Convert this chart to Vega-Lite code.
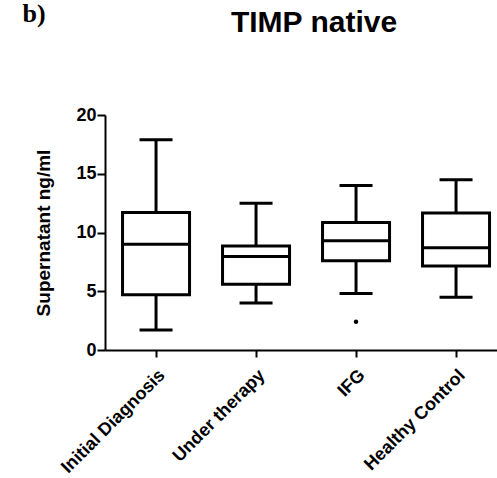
{
  "$schema": "https://vega.github.io/schema/vega-lite/v6.json",
  "autosize": "none",
  "width": 392,
  "height": 235,
  "padding": {"left": 105, "top": 115, "right": 0, "bottom": 128},
  "background": "white",
  "title": {
    "text": "TIMP native",
    "font": "Liberation Sans",
    "fontSize": 30,
    "fontWeight": "bold",
    "color": "black",
    "anchor": "middle",
    "dx": 13,
    "offset": -38
  },
  "config": {
    "view": {"stroke": null},
    "axis": {
      "grid": false,
      "domainColor": "black",
      "domainWidth": 2,
      "tickColor": "black",
      "tickWidth": 2,
      "tickSize": 8,
      "labelColor": "black",
      "titleColor": "black",
      "labelFont": "Liberation Sans",
      "titleFont": "Liberation Sans",
      "labelFontWeight": "bold",
      "titleFontWeight": "bold"
    }
  },
  "datasets": {
    "boxes": [
      {"group": "Initial Diagnosis", "lower": 1.7, "q1": 4.7, "median": 9.0, "q3": 11.7, "upper": 17.9},
      {"group": "Under therapy", "lower": 4.0, "q1": 5.6, "median": 7.95, "q3": 8.85, "upper": 12.5},
      {"group": "IFG", "lower": 4.8, "q1": 7.6, "median": 9.3, "q3": 10.85, "upper": 14.0},
      {"group": "Healthy Control", "lower": 4.5, "q1": 7.15, "median": 8.7, "q3": 11.65, "upper": 14.5}
    ],
    "outliers": [
      {"group": "IFG", "value": 2.4}
    ]
  },
  "resolve": {"axis": {"x": "independent", "y": "independent"}},
  "layer": [
    {
      "data": {"name": "boxes"},
      "mark": {"type": "rule", "color": "black", "strokeWidth": 3},
      "encoding": {
        "x": {
          "field": "group", "type": "nominal", "sort": null,
          "scale": {"paddingInner": 0.5, "paddingOuter": 0.21, "align": 0.62},
          "axis": {"orient": "bottom", "title": null, "labelAngle": -45, "labelFontSize": 18, "labelPadding": 9, "tickSize": 7}
        },
        "y": {
          "field": "lower", "type": "quantitative",
          "scale": {"domain": [0, 20], "nice": false},
          "axis": {"orient": "left", "values": [0, 5, 10, 15, 20], "title": "Supernatant ng/ml", "titleFontSize": 19, "labelFontSize": 18, "labelPadding": 1, "titlePadding": 22}
        },
        "y2": {"field": "upper"}
      }
    },
    {
      "data": {"name": "boxes"},
      "mark": {"type": "bar", "size": 67, "fill": "white", "stroke": "black", "strokeWidth": 3},
      "encoding": {
        "x": {"field": "group", "type": "nominal", "sort": null,
          "axis": {"orient": "top", "labels": false, "ticks": false, "domain": false,
            "title": "b)", "titleFont": "Liberation Serif", "titleFontSize": 26, "titleAngle": 0,
            "titleAlign": "left", "titleBaseline": "alphabetic", "titleX": -83, "titleY": -94}},
        "y": {"field": "q1", "type": "quantitative", "axis": null},
        "y2": {"field": "q3"}
      }
    },
    {
      "data": {"name": "boxes"},
      "mark": {"type": "tick", "size": 67, "thickness": 3, "color": "black", "opacity": 1},
      "encoding": {
        "x": {"field": "group", "type": "nominal", "sort": null, "axis": null},
        "y": {"field": "median", "type": "quantitative", "axis": null}
      }
    },
    {
      "data": {"name": "boxes"},
      "mark": {"type": "tick", "size": 33, "thickness": 3, "color": "black", "opacity": 1},
      "encoding": {
        "x": {"field": "group", "type": "nominal", "sort": null, "axis": null},
        "y": {"field": "upper", "type": "quantitative", "axis": null}
      }
    },
    {
      "data": {"name": "boxes"},
      "mark": {"type": "tick", "size": 33, "thickness": 3, "color": "black", "opacity": 1},
      "encoding": {
        "x": {"field": "group", "type": "nominal", "sort": null, "axis": null},
        "y": {"field": "lower", "type": "quantitative", "axis": null}
      }
    },
    {
      "data": {"name": "outliers"},
      "mark": {"type": "point", "filled": true, "color": "black", "size": 20, "opacity": 1},
      "encoding": {
        "x": {"field": "group", "type": "nominal", "sort": null, "axis": null},
        "y": {"field": "value", "type": "quantitative", "axis": null}
      }
    }
  ]
}
